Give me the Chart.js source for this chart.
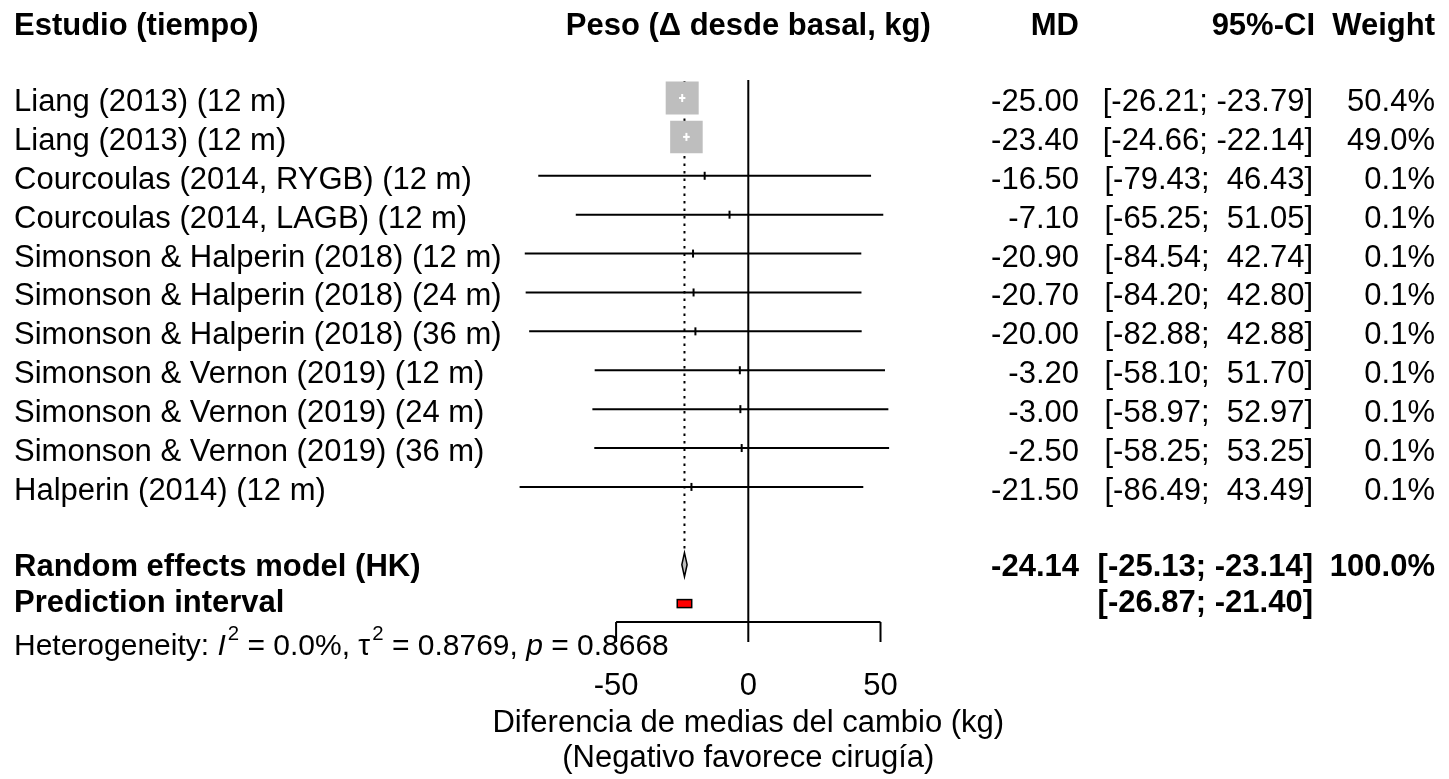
<!DOCTYPE html>
<html>
<head>
<meta charset="utf-8">
<script src="https://cdn.jsdelivr.net/npm/chart.js@4.4.0/dist/chart.umd.min.js"></script>
<style>
  html, body { margin: 0; padding: 0; background: #fff; }
  #wrap { width: 1449px; height: 779px; }
</style>
</head>
<body>
<div id="wrap"><canvas id="forestChart"></canvas></div>
<script>
var studies = [
  'Liang (2013) (12 m)',
  'Liang (2013) (12 m)',
  'Courcoulas (2014, RYGB) (12 m)',
  'Courcoulas (2014, LAGB) (12 m)',
  'Simonson & Halperin (2018) (12 m)',
  'Simonson & Halperin (2018) (24 m)',
  'Simonson & Halperin (2018) (36 m)',
  'Simonson & Vernon (2019) (12 m)',
  'Simonson & Vernon (2019) (24 m)',
  'Simonson & Vernon (2019) (36 m)',
  'Halperin (2014) (12 m)'
];
var md = [-25.00, -23.40, -16.50, -7.10, -20.90, -20.70, -20.00, -3.20, -3.00, -2.50, -21.50];
var ciLow = [-26.21, -24.66, -79.43, -65.25, -84.54, -84.20, -82.88, -58.10, -58.97, -58.25, -86.49];
var ciHigh = [-23.79, -22.14, 46.43, 51.05, 42.74, 42.80, 42.88, 51.70, 52.97, 53.25, 43.49];
var weights = [50.4, 49.0, 0.1, 0.1, 0.1, 0.1, 0.1, 0.1, 0.1, 0.1, 0.1];

var pooledMD = -24.14, pooledLow = -25.13, pooledHigh = -23.14, pooledWeight = 100.0;
var predLow = -26.87, predHigh = -21.40;
var hetI2 = '0.0%', hetTau2 = '0.8769', hetP = '0.8668';
var xTicks = [-50, 0, 50];

var pooledRow = studies.length + 2;
var predRow = studies.length + 3;

var FONT = '"Liberation Sans", Arial, sans-serif';
var SIZE = 31;

function fmt(v) { return v.toFixed(2); }
function pad(s) { while (s.length < 6) s = ' ' + s; return s; }
function ciText(lo, hi) { return '[' + pad(fmt(lo)) + '; ' + pad(fmt(hi)) + ']'; }

// square side proportional to sqrt(weight), biggest ~33px
function squareRadius(w) { return 33 * Math.sqrt(w / 50.4) / (2 * Math.SQRT1_2); }

var datasets = [];
datasets.push({
  type: 'scatter',
  data: md.map(function (v, i) { return { x: v, y: i + 1 }; }),
  pointStyle: 'rect',
  pointRadius: weights.map(squareRadius),
  backgroundColor: '#bebebe',
  borderWidth: 0,
  order: 3
});
studies.forEach(function (s, i) {
  datasets.push({
    type: 'line',
    data: [{ x: ciLow[i], y: i + 1 }, { x: ciHigh[i], y: i + 1 }],
    borderColor: weights[i] > 10 ? '#ffffff' : '#000000',
    borderWidth: 2,
    pointRadius: 0,
    order: 2
  });
});
datasets.push({
  type: 'scatter',
  data: md.map(function (v, i) { return { x: v, y: i + 1 }; }),
  pointStyle: 'line',
  rotation: 90,
  pointRadius: 4,
  borderWidth: 2,
  borderColor: weights.map(function (w) { return w > 10 ? '#ffffff' : '#000000'; }),
  order: 1
});

var forestDecor = {
  id: 'forestDecor',
  beforeDatasetsDraw: function (chart) {
    var ctx = chart.ctx, xs = chart.scales.x;
    var x0 = xs.getPixelForValue(0), xp = xs.getPixelForValue(pooledMD);
    ctx.save();
    ctx.strokeStyle = '#000';
    ctx.lineWidth = 2;
    // line of no effect + axis
    ctx.beginPath();
    ctx.moveTo(x0, 80); ctx.lineTo(x0, 642);
    ctx.moveTo(xs.getPixelForValue(xTicks[0]), 622);
    ctx.lineTo(xs.getPixelForValue(xTicks[xTicks.length - 1]), 622);
    xTicks.forEach(function (t) {
      var px = xs.getPixelForValue(t);
      ctx.moveTo(px, 622); ctx.lineTo(px, 642);
    });
    ctx.stroke();
    // pooled estimate dotted line
    ctx.setLineDash([2.5, 5]);
    ctx.beginPath();
    ctx.moveTo(xp, 81); ctx.lineTo(xp, 553);
    ctx.stroke();
    ctx.restore();
  },
  afterDatasetsDraw: function (chart) {
    var ctx = chart.ctx, xs = chart.scales.x, ys = chart.scales.y;
    ctx.save();
    // diamond
    var yc = ys.getPixelForValue(pooledRow);
    ctx.beginPath();
    ctx.moveTo(xs.getPixelForValue(pooledLow), yc);
    ctx.lineTo(xs.getPixelForValue(pooledMD), yc - 12);
    ctx.lineTo(xs.getPixelForValue(pooledHigh), yc);
    ctx.lineTo(xs.getPixelForValue(pooledMD), yc + 12);
    ctx.closePath();
    ctx.fillStyle = '#bebebe';
    ctx.fill();
    ctx.lineWidth = 1.5;
    ctx.strokeStyle = '#000';
    ctx.stroke();
    // prediction interval
    var yp = ys.getPixelForValue(predRow);
    var l = xs.getPixelForValue(predLow), r = xs.getPixelForValue(predHigh);
    ctx.fillStyle = '#ff0000';
    ctx.fillRect(l, yp - 4, r - l, 8);
    ctx.strokeRect(l, yp - 4, r - l, 8);

    // texts
    ctx.fillStyle = '#000';
    ctx.textBaseline = 'alphabetic';
    function txt(s, x, y, align, bold, size) {
      ctx.font = (bold ? 'bold ' : '') + (size || SIZE) + 'px ' + FONT;
      ctx.textAlign = align;
      ctx.fillText(s, x, y);
    }
    var hy = 34.5;
    txt('Estudio (tiempo)', 14, hy, 'left', true);
    txt('Peso (\u0394 desde basal, kg)', xs.getPixelForValue(0), hy, 'center', true);
    txt('MD', 1079, hy, 'right', true);
    txt('95%-CI', 1315, hy, 'right', true);
    txt('Weight', 1435, hy, 'right', true);

    studies.forEach(function (s, i) {
      var y = ys.getPixelForValue(i + 1) + 13;
      txt(s, 14, y, 'left', false);
      txt(fmt(md[i]), 1079, y, 'right', false);
      txt(ciText(ciLow[i], ciHigh[i]), 1313, y, 'right', false);
      txt(weights[i].toFixed(1) + '%', 1435, y, 'right', false);
    });
    var ry = yc + 11.5;
    txt('Random effects model (HK)', 14, ry, 'left', true);
    txt(fmt(pooledMD), 1079, ry, 'right', true);
    txt(ciText(pooledLow, pooledHigh), 1313, ry, 'right', true);
    txt(pooledWeight.toFixed(1) + '%', 1435, ry, 'right', true);
    var py = yp + 8.5;
    txt('Prediction interval', 14, py, 'left', true);
    txt(ciText(predLow, predHigh), 1313, py, 'right', true);

    // heterogeneity line with italics / superscripts
    var hs = 30, cx = 14, by = 655;
    var parts = [
      ['Heterogeneity: ', ''], ['I', 'i'], ['2', 's'], [' = ' + hetI2 + ', \u03c4', ''], ['2', 's'],
      [' = ' + hetTau2 + ', ', ''], ['p', 'i'], [' = ' + hetP, '']
    ];
    ctx.textAlign = 'left';
    parts.forEach(function (p) {
      var f = p[1] === 'i' ? 'italic ' + hs + 'px ' : (p[1] === 's' ? (hs * 0.68) + 'px ' : hs + 'px ');
      ctx.font = f + FONT;
      ctx.fillText(p[0], cx + (p[1] === 's' ? 2 : 0), p[1] === 's' ? by - 15 : by);
      cx += ctx.measureText(p[0]).width + (p[1] === 's' ? 2 : 0);
    });

    // tick labels and x label
    xTicks.forEach(function (t) {
      txt(String(t), xs.getPixelForValue(t), 695, 'center', false);
    });
    txt('Diferencia de medias del cambio (kg)', xs.getPixelForValue(0), 731.5, 'center', false);
    txt('(Negativo favorece cirug\u00eda)', xs.getPixelForValue(0), 767, 'center', false);
    ctx.restore();
  }
};

var ctx = document.getElementById('forestChart').getContext('2d');
var forestChart = new Chart(ctx, {
  type: 'scatter',
  data: { datasets: datasets },
  options: {
    responsive: true,
    maintainAspectRatio: false,
    animation: false,
    layout: { padding: 0, autoPadding: false },
    plugins: { legend: { display: false }, tooltip: { enabled: false } },
    scales: {
      x: { type: 'linear', min: -283, max: 265, display: false },
      y: { type: 'linear', reverse: true, min: -1.52, max: 18.51, display: false }
    }
  },
  plugins: [forestDecor]
});
</script>
</body>
</html>
